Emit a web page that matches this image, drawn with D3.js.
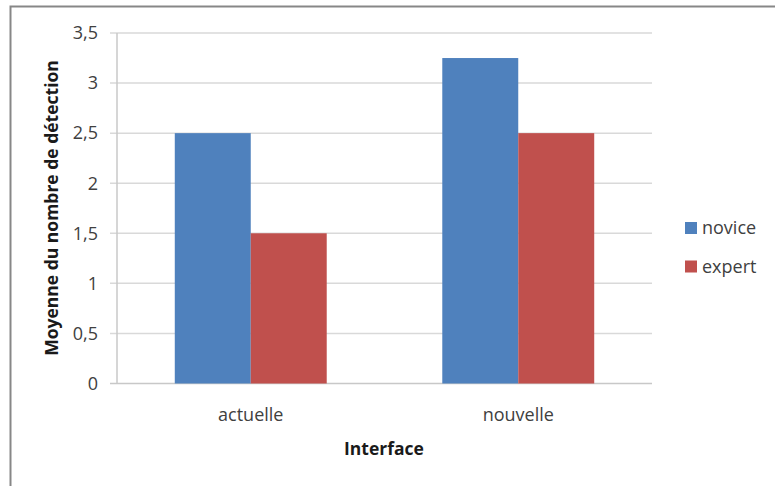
<!DOCTYPE html>
<html>
<head>
<meta charset="utf-8">
<script src="https://cdn.jsdelivr.net/npm/d3@7"></script>
<style>
  body { margin: 0; background: #fff; }
  text { font-family: "Open Sans", "Liberation Sans", sans-serif; }
</style>
</head>
<body>
<script>
(function() {

    const width = 775;
    const height = 486;

    // data
    const categories = ["actuelle", "nouvelle"];
    const seriesNames = ["novice", "expert"];
    const novice = [2.5, 3.25];
    const expert = [1.5, 2.5];
    const yTicks = [0, 0.5, 1, 1.5, 2, 2.5, 3, 3.5];
    const colors = ["#4F81BD", "#C0504D"];

    const plot = { left: 117, right: 652, top: 33, bottom: 383.5 };

    let svg = d3.select("body")
        .append("svg")
        .attr("width", width)
        .attr("height", height);

    // outer frame of the chart
    svg.append("rect")
        .attr("x", 10.5)
        .attr("y", 6.5)
        .attr("width", 780)
        .attr("height", 500)
        .style("fill", "none")
        .style("stroke", "#878787")
        .style("stroke-width", 2);

    let y = d3.scaleLinear()
        .domain([0, 3.5])
        .range([plot.bottom, plot.top]);

    let x0 = d3.scaleBand()
        .domain(categories)
        .range([plot.left, plot.right])
        .paddingInner(0.432)
        .paddingOuter(0.216);

    let x1 = d3.scaleBand()
        .domain(seriesNames)
        .range([0, x0.bandwidth()]);

    // gridlines + y labels
    let grid = svg.append("g");
    grid.selectAll("line")
        .data(yTicks)
        .enter()
        .append("line")
        .attr("x1", plot.left - 7)
        .attr("x2", plot.right)
        .attr("y1", d => y(d))
        .attr("y2", d => y(d))
        .style("stroke", d => d === 0 ? "#c8c8c8" : "#d9d9d9")
        .style("stroke-width", 1.5);

    grid.selectAll("text")
        .data(yTicks)
        .enter()
        .append("text")
        .attr("x", plot.left - 19)
        .attr("y", d => y(d))
        .attr("dy", "0.35em")
        .attr("text-anchor", "end")
        .style("font-size", "18px")
        .style("fill", "#404040")
        .text(d => String(d).replace(".", ","));

    // y axis line
    svg.append("line")
        .attr("x1", plot.left)
        .attr("x2", plot.left)
        .attr("y1", plot.top)
        .attr("y2", plot.bottom)
        .style("stroke", "#c8c8c8")
        .style("stroke-width", 1.5);

    // bars
    let groups = svg.selectAll("g.cat")
        .data(categories)
        .enter()
        .append("g")
        .attr("class", "cat")
        .attr("transform", d => "translate(" + x0(d) + ",0)");

    groups.selectAll("rect")
        .data((d, i) => [novice[i], expert[i]].map((v, j) => ({ key: seriesNames[j], value: v, color: colors[j] })))
        .enter()
        .append("rect")
        .attr("x", d => x1(d.key))
        .attr("y", d => y(d.value))
        .attr("width", x1.bandwidth())
        .attr("height", d => y(0) - y(d.value))
        .style("fill", d => d.color);

    // category labels
    svg.selectAll("text.cat")
        .data(categories)
        .enter()
        .append("text")
        .attr("class", "cat")
        .attr("x", d => x0(d) + x0.bandwidth() / 2)
        .attr("y", 421)
        .attr("text-anchor", "middle")
        .style("font-size", "18px")
        .style("fill", "#404040")
        .text(d => d);

    // axis titles
    svg.append("text")
        .attr("x", 384)
        .attr("y", 455)
        .attr("text-anchor", "middle")
        .style("font-size", "17.5px")
        .style("font-weight", "bold")
        .style("fill", "#1a1a1a")
        .text("Interface");

    svg.append("text")
        .attr("transform", "translate(58,208) rotate(-90)")
        .attr("text-anchor", "middle")
        .style("font-size", "17.5px")
        .style("font-weight", "bold")
        .style("fill", "#1a1a1a")
        .text("Moyenne du nombre de détection");

    // legend
    let legend = svg.selectAll("g.legend")
        .data(seriesNames)
        .enter()
        .append("g")
        .attr("class", "legend")
        .attr("transform", (d, i) => "translate(685," + (222 + i * 38.5) + ")");

    legend.append("rect")
        .attr("width", 12)
        .attr("height", 12)
        .style("fill", (d, i) => colors[i]);

    legend.append("text")
        .attr("x", 17)
        .attr("y", 6)
        .attr("dy", "0.35em")
        .style("font-size", "18px")
        .style("fill", "#404040")
        .text(d => d);

})();
</script>
</body>
</html>
